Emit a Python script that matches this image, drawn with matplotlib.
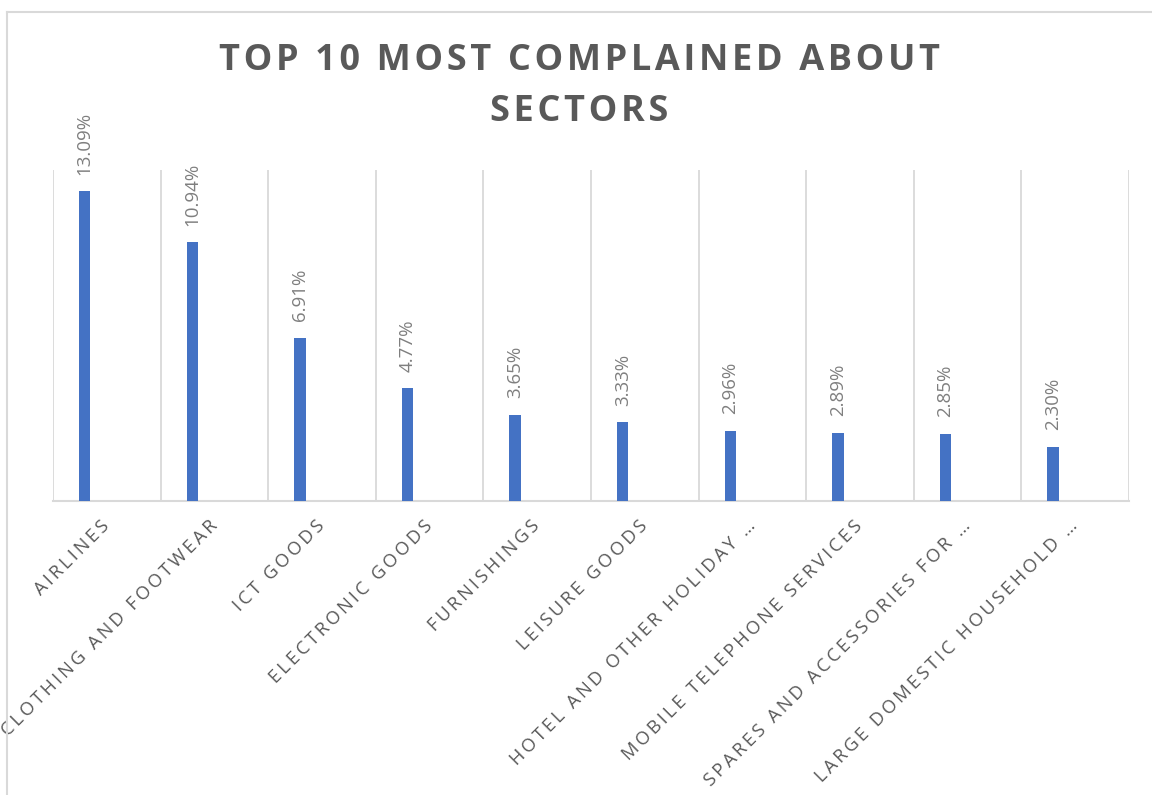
import numpy as np
import matplotlib.pyplot as plt
from matplotlib.lines import Line2D

# datos del grafico
sectores = ['AIRLINES', 'CLOTHING AND FOOTWEAR', 'ICT GOODS', 'ELECTRONIC GOODS',
            'FURNISHINGS', 'LEISURE GOODS', 'HOTEL AND OTHER HOLIDAY …',
            'MOBILE TELEPHONE SERVICES', 'SPARES AND ACCESSORIES FOR …',
            'LARGE DOMESTIC HOUSEHOLD …']
porcentajes = [13.09, 10.94, 6.91, 4.77, 3.65, 3.33, 2.96, 2.89, 2.85, 2.30]
titulo = 'TOP 10 MOST COMPLAINED ABOUT\nSECTORS'


def espaciar(texto, sep='\u200a'):
    # simula el espaciado entre letras de Excel
    return '\n'.join(sep.join(linea) for linea in texto.split('\n'))


fuente = ['Open Sans', 'DejaVu Sans']
gris_titulo = '#595959'
gris_texto = '#595959'
gris_valor = '#7f7f7f'
gris_linea = '#d9d9d9'
azul = '#4472c4'

fig = plt.figure(figsize=(11.52, 7.95), dpi=100)
ax = fig.add_axes([0.046, 0.3698, 0.934, 0.4164])

x = np.arange(len(sectores))
ax.bar(x + 0.295, porcentajes, width=0.105, color=azul, zorder=3)

for xi, v in zip(x, porcentajes):
    ax.annotate(f'{v:.2f}%', (xi + 0.295, v), xytext=(0, 12), textcoords='offset points',
                rotation=90, ha='center', va='bottom', fontsize=13.5, color=gris_valor,
                family=fuente)

ax.set_xlim(0, 10)
ax.set_ylim(0, 14)
ax.set_yticks([])
for g in range(0, 11):
    ax.axvline(g, color=gris_linea, lw=1.3, zorder=1)

ax.set_xticks(x + 0.5)
ax.set_xticklabels([espaciar(s, '\u2009') for s in sectores], rotation=45, ha='right',
                   va='center', rotation_mode='anchor', fontsize=13.2, color=gris_texto,
                   family=fuente)
ax.tick_params(axis='x', length=0, pad=16)

for lado in ['top', 'left', 'right']:
    ax.spines[lado].set_visible(False)
ax.spines['bottom'].set_color(gris_linea)
ax.spines['bottom'].set_linewidth(1.5)

fig.text(0.503, 0.946, espaciar(titulo), ha='center', va='top', fontsize=26,
         fontweight='bold', color=gris_titulo, family=fuente, linespacing=1.55)

# borde del area del grafico
fig.add_artist(Line2D([7 / 1152, 1], [1 - 12 / 795, 1 - 12 / 795], color=gris_linea, lw=1.5))
fig.add_artist(Line2D([7 / 1152, 7 / 1152], [0, 1 - 12 / 795], color=gris_linea, lw=1.5))

plt.savefig('out.png', dpi=100)
